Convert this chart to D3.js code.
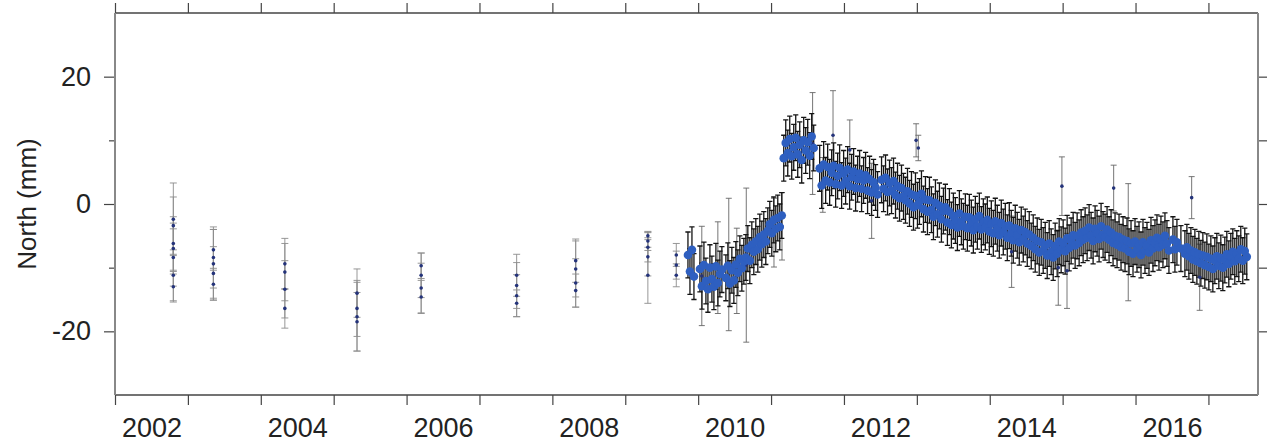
<!DOCTYPE html>
<html>
<head>
<meta charset="utf-8">
<script src="https://cdn.jsdelivr.net/npm/d3@7"></script>
<style>
  body { margin: 0; background: #fff; }
  svg { display: block; }
  text { font-family: "Liberation Sans", Arial, Helvetica, sans-serif; fill: #222; }
</style>
</head>
<body>
<svg id="chart"></svg>
<script>

// ---- data (north component, mm) ----

// campaign occupations before the continuous station
const campaignDates = [2002.80, 2003.35, 2004.33, 2005.32, 2006.20, 2007.51, 2008.32, 2009.31, 2009.70];
const campaignNorth = [
  [-2.4, -3.4, -6.2, -7.0, -8.4, -11.2, -13.0],
  [-7.2, -8.4, -9.4, -10.9, -12.6],
  [-9.4, -10.7, -13.4, -16.4],
  [-14.0, -16.4, -17.7, -18.5],
  [-9.7, -11.2, -13.2, -14.6],
  [-11.2, -12.8, -14.4, -15.6],
  [-8.9, -10.2, -12.4, -13.6],
  [-5.0, -5.8, -6.8, -8.3, -11.2],
  [-8.0, -9.6, -11.2]
];
const campaignSigma = [
  [5.7, 4.5, 4.2, 4.0, 4.5, 4.0, 2.4],
  [3.2, 4.8, 5.4, 4.2, 2.5],
  [4.0, 4.5, 4.5, 3.1],
  [3.8, 4.4, 5.4, 4.6],
  [2.0, 3.5, 3.9, 2.6],
  [3.3, 3.6, 3.3, 2.1],
  [3.4, 4.4, 3.8, 2.6],
  [0.6, 1.5, 2.3, 3.0, 4.4],
  [1.8, 2.2, 1.8]
];

// continuous series, one value every 10 days (null = no data)
const denseStart = 2009.86;
const denseStepDays = 10;
const denseSigma = 3.6;
const denseNorth = [
  -8.0, -10.6, -7.2, -11.4, null, null,
  -10.2, -12.9, -9.6, -12.1, -13.4, -10.0, -11.8, -13.0, -9.8, -12.4, -11.0, -10.3, null,
  -11.6, -9.7, -12.5, -10.4, -12.0, -9.5,
  -10.8, -8.6, -10.1, -9.0,
  -8.4, -7.0, -8.9, -6.4, -7.5, -5.9, -7.1, -5.2, -6.3, -4.8, -5.9, -4.2,
  -3.2, -4.6, -2.5, -3.9, -2.2, -3.6, -1.8,
  7.2, 9.6, 8.0, 10.2, 7.5, 8.9, 10.4, 7.8, 9.3, 6.9, 10.0, 8.4, 9.7, 7.6, 10.6, 8.8,
  null, null,
  5.6, 2.9, 6.2, 3.7,
  5.8, 3.4, 4.9, 6.0, 3.1, 4.4, 5.7, 2.9, 4.8, 3.6,
  5.4, 2.8, 4.2, 5.1, 2.5, 3.9, 4.8, 2.4, 3.7, 4.5,
  2.1, 3.9, 1.8, 3.4, 2.6, 1.5, null,
  3.8, 2.4, 4.1, 1.9, 3.3, 2.1, 3.6, 1.4, 2.8, 0.9, 2.5, 1.2, 0.6,
  2.0, 0.1, 1.5, -0.5, 1.3, -0.2, 0.4, 1.6, -0.8, 0.7,
  -1.2, 0.6, -0.9, -2.0, 0.2, -1.6, -0.3, -2.4, -1.1, -0.5,
  -2.9, -1.2, -3.3, -1.9, -2.6, -3.7, -1.5, -2.8, -3.5, -2.0,
  -3.8, -2.1, -3.0, -4.1, -2.4, -3.5, -1.9, -4.0, -2.8, -3.6,
  -2.5, -4.3, -3.1, -4.6, -2.7, -3.8, -4.9, -3.0, -4.4, -3.5,
  -5.3, -3.4, -4.6, -5.7, -3.8, -4.9, -6.0, -4.1, -5.5, -4.4,
  -6.2, -4.8, -6.6, -5.3, -7.1, -5.8, -7.6, -6.0, -7.3, -6.5,
  -8.1, -6.2, -7.5, -8.4, -6.6, -7.8, -5.9, -7.2, -6.1, -7.4,
  -5.4, -6.9, -5.8, -4.9, -6.5, -5.0, -6.1, -4.5, -5.6, -4.2,
  -5.3, -3.7, -4.9, -5.8, -3.9, -4.6, -5.5, -3.5, -4.8, -5.2,
  -4.0, -5.6, -4.5, -6.1, -5.0, -6.4, -5.2, -6.8, -5.6, -7.0,
  -5.8, -7.5, -6.2, -7.8, -5.9, -7.1, -6.4, -8.0, -6.0, -7.3,
  -6.5, -7.6, -5.7, -7.0, -6.1, -5.3, -6.8, -5.5, -6.4, -5.0,
  -6.2, -7.3, null, -5.6, -7.1, -6.0, null, -7.0, null, -7.8,
  -6.8, -8.2, -7.3, -8.7, -7.6, -9.0, -7.9, -9.3, -8.1, -9.6,
  -8.3, -9.9, -8.6, -10.2, -8.9, -8.2, -9.7, -8.5, -10.0, -8.8,
  -7.9, -9.4, -8.2, -7.5, -9.0, -7.8, -8.6, -7.1, -8.9, -7.4, -8.3
];

// noisy days with large error bars
const noisyDates = [2010.05, 2010.27, 2010.42, 2010.53, 2010.66, 2011.04, 2011.15, 2011.57, 2011.71, 2011.85, 2012.08,
                    2012.38, 2012.99, 2013.02, 2014.30, 2014.94, 2014.99, 2015.06, 2015.70, 2015.90, 2016.77, 2016.88];
const noisyNorth = [-11.3, -10.0, -9.5, -10.5, -9.6, -4.5, -3.5, 9.5, 3.0, 10.8, 8.5,
                    0.5, 10.0, 8.8, -7.5, -10.0, 2.8, -10.5, 2.5, -6.0, 1.0, -11.5];
const noisySigma = [7.8, 7.2, 10.4, 6.7, 12.1, 5.4, 5.3, 8.0, 4.3, 7.0, 4.7,
                    5.9, 2.6, 2.0, 5.6, 5.9, 4.6, 5.9, 3.6, 9.2, 3.3, 5.2];

// axes
const yearTicks = [2002, 2003, 2004, 2005, 2006, 2007, 2008, 2009, 2010, 2011, 2012, 2013, 2014, 2015, 2016, 2017];
const yearLabels = [2002, 2004, 2006, 2008, 2010, 2012, 2014, 2016];
const yMajorTicks = [-20, 0, 20];
const yMinorTicks = [-10, 10];
const yAllTicks = [-20, -10, 0, 10, 20];


class NorthChart {

  constructor(_config, _data) {
    this.config = {
      parentElement: _config.parentElement,
      containerWidth: _config.containerWidth || 1268,
      containerHeight: _config.containerHeight || 447,
      margin: { top: 13, bottom: 52, right: 10, left: 115 },
    }
    this.data = _data;
    this.initVis();
  }

  initVis() {
    let vis = this;

    vis.width = vis.config.containerWidth - vis.config.margin.left - vis.config.margin.right;
    vis.height = vis.config.containerHeight - vis.config.margin.top - vis.config.margin.bottom;

    vis.xScale = d3.scaleLinear()
        .domain([2002, 2017.68])
        .range([0, vis.width]);

    vis.yScale = d3.scaleLinear()
        .domain([-30, 30])
        .range([vis.height, 0]);

    vis.svg = d3.select(vis.config.parentElement)
        .attr('width', vis.config.containerWidth)
        .attr('height', vis.config.containerHeight);

    vis.chart = vis.svg.append('g')
        .attr('transform', `translate(${vis.config.margin.left},${vis.config.margin.top})`);

    // year boundary ticks, bottom and top
    vis.chart.append('g')
        .attr('class', 'axis x-axis')
        .attr('transform', `translate(0,${vis.height})`)
        .call(d3.axisBottom(vis.xScale).tickValues(yearTicks).tickSize(10).tickSizeOuter(0).tickFormat(''));

    vis.chart.append('g')
        .attr('class', 'axis x-axis-top')
        .call(d3.axisTop(vis.xScale).tickValues(yearTicks).tickSize(10).tickSizeOuter(0).tickFormat(''));

    // year labels centred in the year
    vis.chart.append('g')
        .attr('class', 'axis x-labels')
        .attr('transform', `translate(0,${vis.height})`)
        .call(d3.axisBottom(vis.xScale)
            .tickValues(yearLabels.map(d => d + 0.5))
            .tickSize(0).tickPadding(23)
            .tickFormat(d => Math.floor(d)));

    // left axis
    vis.chart.append('g')
        .attr('class', 'axis y-axis')
        .call(d3.axisLeft(vis.yScale).tickValues(yMajorTicks).tickSize(11).tickPadding(13).tickSizeOuter(0)
            .tickFormat(d => String(d)));

    vis.chart.append('g')
        .attr('class', 'axis y-axis-minor')
        .call(d3.axisLeft(vis.yScale).tickValues(yMinorTicks).tickSize(6).tickSizeOuter(0).tickFormat(''));

    // right axis
    vis.chart.append('g')
        .attr('class', 'axis y-axis-right')
        .attr('transform', `translate(${vis.width},0)`)
        .call(d3.axisRight(vis.yScale).tickValues(yAllTicks).tickSize(9).tickSizeOuter(0).tickFormat(''));

    vis.chart.selectAll('.axis .domain').remove();
    vis.chart.selectAll('.axis line').attr('stroke', '#444').attr('stroke-width', 1.2);
    vis.chart.selectAll('.axis text')
        .attr('fill', '#222')
        .style('font-size', '27px')
        .style('font-family', '"Liberation Sans", Arial, Helvetica, sans-serif');

    vis.marks = vis.chart.append('g');

    // frame
    vis.chart.append('line')
        .attr('x1', 0).attr('x2', vis.width).attr('y1', 0).attr('y2', 0)
        .attr('stroke', '#444').attr('stroke-width', 1.3);
    vis.chart.append('line')
        .attr('x1', 0).attr('x2', vis.width).attr('y1', vis.height).attr('y2', vis.height)
        .attr('stroke', '#444').attr('stroke-width', 1.3);
    vis.chart.append('line')
        .attr('x1', 0).attr('x2', 0).attr('y1', 0).attr('y2', vis.height)
        .attr('stroke', '#888').attr('stroke-width', 2);
    vis.chart.append('line')
        .attr('x1', vis.width).attr('x2', vis.width).attr('y1', 0).attr('y2', vis.height)
        .attr('stroke', '#888').attr('stroke-width', 2);

    // y-axis label
    vis.svg.append('text')
        .attr('class', 'axis-label')
        .attr('transform', `translate(36,${vis.config.margin.top + vis.yScale(0)}) rotate(-90)`)
        .style('text-anchor', 'middle')
        .style('font-size', '26px')
        .text('North (mm)');

    vis.renderVis();
  }

  renderVis() {
    let vis = this;

    const barPath = (d, cap) => {
      const x = vis.xScale(d.date);
      const y1 = vis.yScale(d.value + d.sigma);
      const y2 = vis.yScale(d.value - d.sigma);
      return `M${x},${y1}V${y2}M${x - cap},${y1}H${x + cap}M${x - cap},${y2}H${x + cap}`;
    };

    const campaign = vis.data.filter(d => d.kind === 'campaign');
    const dense = vis.data.filter(d => d.kind === 'dense');
    const noisy = vis.data.filter(d => d.kind === 'noisy');

    vis.marks.selectAll('.bar-campaign')
        .data(campaign)
      .join('path')
        .attr('class', 'bar-campaign')
        .attr('d', d => barPath(d, 3.5))
        .attr('fill', 'none')
        .attr('stroke', '#8c8c8c')
        .attr('stroke-width', 0.9);

    vis.marks.selectAll('.bar-noisy')
        .data(noisy)
      .join('path')
        .attr('class', 'bar-noisy')
        .attr('d', d => barPath(d, 3))
        .attr('fill', 'none')
        .attr('stroke', '#666')
        .attr('stroke-width', 0.9);

    vis.marks.selectAll('.bar-dense')
        .data(dense)
      .join('path')
        .attr('class', 'bar-dense')
        .attr('d', d => barPath(d, 2.6))
        .attr('fill', 'none')
        .attr('stroke', '#141414')
        .attr('stroke-width', 1.3);

    vis.marks.selectAll('.pt-campaign')
        .data(campaign.concat(noisy))
      .join('circle')
        .attr('class', 'pt-campaign')
        .attr('cx', d => vis.xScale(d.date))
        .attr('cy', d => vis.yScale(d.value))
        .attr('r', 1.8)
        .attr('fill', '#24337a');

    vis.marks.selectAll('.pt-dense')
        .data(dense)
      .join('circle')
        .attr('class', 'pt-dense')
        .attr('cx', d => vis.xScale(d.date))
        .attr('cy', d => vis.yScale(d.value))
        .attr('r', 4.3)
        .attr('fill', '#2e5fc0');
  }
}

// build the point table
const points = [];
campaignDates.forEach((date, i) => {
  campaignNorth[i].forEach((v, j) => {
    points.push({ date: date, value: v, sigma: campaignSigma[i][j], kind: 'campaign' });
  });
});
denseNorth.forEach((v, i) => {
  if (v === null) return;
  points.push({ date: denseStart + i * denseStepDays / 365.25, value: v, sigma: denseSigma, kind: 'dense' });
});
noisyDates.forEach((date, i) => {
  points.push({ date: date, value: noisyNorth[i], sigma: noisySigma[i], kind: 'noisy' });
});

const chart = new NorthChart({ parentElement: '#chart' }, points);

</script>
</body>
</html>
